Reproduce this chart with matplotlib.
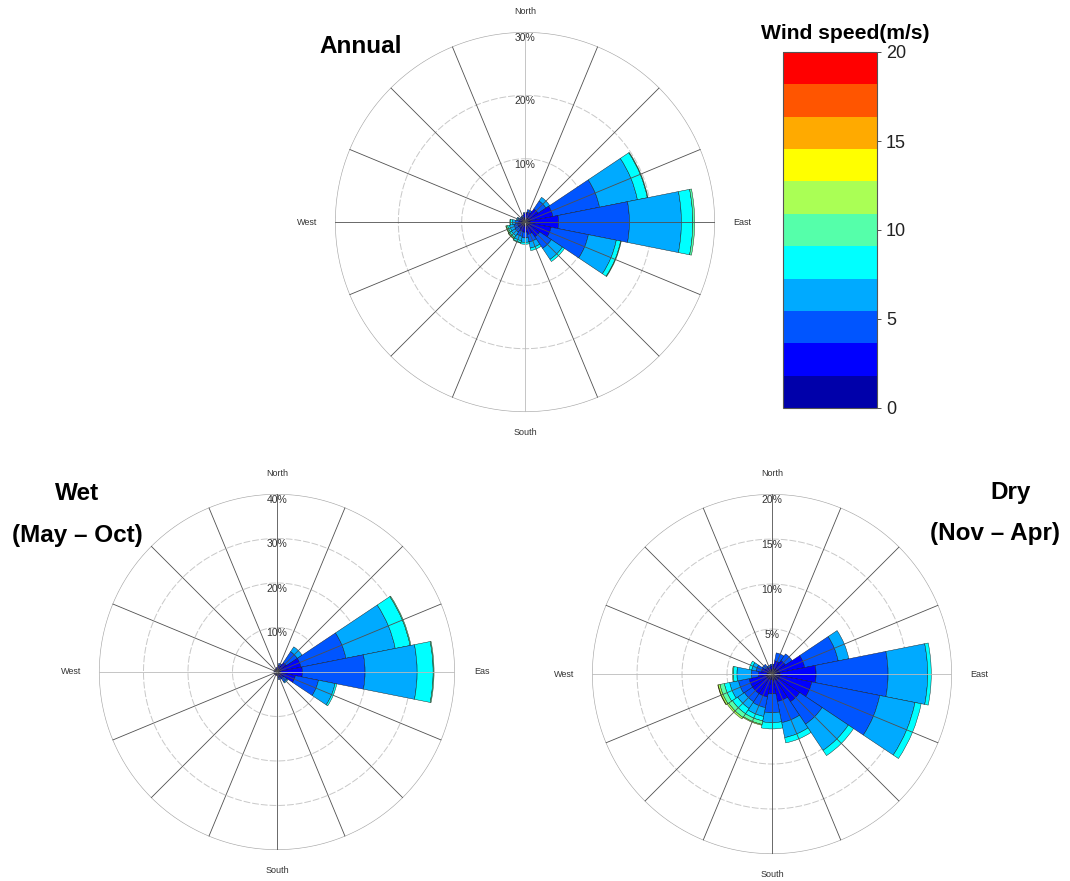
import numpy as np
import matplotlib.pyplot as plt
from matplotlib.colors import ListedColormap, BoundaryNorm
from matplotlib.cm import ScalarMappable

plt.rcParams['font.family'] = ['Liberation Sans', 'DejaVu Sans']

# 16 compass sectors, clockwise from North
directions = ['N', 'NNE', 'NE', 'ENE', 'E', 'ESE', 'SE', 'SSE',
              'S', 'SSW', 'SW', 'WSW', 'W', 'WNW', 'NW', 'NNW']
direction_deg = [0, 22.5, 45, 67.5, 90, 112.5, 135, 157.5,
                 180, 202.5, 225, 247.5, 270, 292.5, 315, 337.5]

# wind speed classes (m/s), 11 classes between 0 and 20
speed_edges = [0, 1.82, 3.64, 5.45, 7.27, 9.09, 10.91, 12.73, 14.55, 16.36, 18.18, 20]
speed_ticks = [0, 5, 10, 15, 20]

# cumulative frequency (%) at the top of each speed class, per direction
annual_cum = [
    [0.6, 1.3, 1.5],
    [0.6, 1.6, 2.0],
    [0.7, 2.5, 4.0, 4.7],
    [0.8, 4.5, 12.0, 18.1, 19.7, 19.8],
    [0.8, 5.3, 16.5, 24.7, 26.5, 26.8],
    [0.8, 4.2, 10.2, 14.7, 15.4, 15.5],
    [0.7, 2.8, 5.0, 7.1, 7.5],
    [0.6, 2.0, 3.2, 4.2, 4.6],
    [0.6, 1.6, 2.5, 3.2, 3.5],
    [0.6, 1.5, 2.3, 3.0, 3.3, 3.4],
    [0.5, 1.2, 1.9, 2.6, 2.9, 3.1, 3.2],
    [0.5, 1.2, 1.8, 2.5, 2.8, 3.0, 3.1],
    [0.5, 1.0, 1.5, 2.0, 2.3, 2.4],
    [0.5, 0.9, 1.2, 1.4],
    [0.4, 0.8, 1.0],
    [0.4, 0.8, 1.1],
]

wet_cum = [
    [0.5, 1.0],
    [0.5, 1.5, 2.0],
    [0.6, 2.5, 5.5, 6.8],
    [0.7, 5.5, 15.8, 27.1, 30.5, 30.7],
    [0.7, 5.7, 19.8, 31.5, 35.1, 35.3],
    [0.7, 4.2, 9.5, 13.3, 13.7],
    [0.5, 1.8, 2.7, 3.0],
    [0.5, 1.3, 1.8],
    [0.4, 0.8],
    [0.4, 0.7],
    [0.4, 0.7],
    [0.4, 0.7],
    [0.4, 0.7],
    [0.4, 0.6],
    [0.4, 0.6],
    [0.4, 0.7],
]

dry_cum = [
    [0.5, 0.9, 1.1],
    [0.6, 1.5, 2.4],
    [0.7, 1.8, 2.7],
    [0.8, 3.7, 7.5, 8.7],
    [0.9, 4.9, 12.9, 17.3, 17.7],
    [0.9, 4.5, 12.2, 16.2, 16.9],
    [0.8, 3.7, 6.7, 10.2, 10.9],
    [0.7, 3.1, 5.5, 7.2, 7.8],
    [0.6, 2.2, 4.3, 5.4, 6.1],
    [0.6, 2.6, 3.8, 4.8, 5.3, 5.7, 5.8],
    [0.6, 2.6, 3.7, 4.6, 5.3, 5.8, 6.0],
    [0.6, 2.6, 3.8, 4.8, 5.4, 5.9, 6.1, 6.15],
    [0.5, 1.5, 2.3, 3.9, 4.3, 4.4],
    [0.5, 1.2, 1.8, 2.3, 2.6],
    [0.4, 0.9, 1.3],
    [0.4, 0.8, 1.0],
]

# jet(11)
colors = ['#0000AA', '#0000FF', '#0055FF', '#00AAFF', '#00FFFF', '#55FFAA',
          '#AAFF55', '#FFFF00', '#FFAA00', '#FF5500', '#FF0000']

theta = np.deg2rad(direction_deg)
width = np.deg2rad(22.5)


def draw_rose(ax, cum, rmax, rings, ns_dark, east_label='East'):
    ax.set_theta_zero_location('N')
    ax.set_theta_direction(-1)
    ax.grid(False)
    ax.spines['polar'].set_visible(False)
    ax.set_xticks([])
    ax.set_yticks([])

    for i, vals in enumerate(cum):
        prev = 0
        for k, v in enumerate(vals):
            ax.bar(theta[i], v - prev, width=width, bottom=prev, color=colors[k],
                   edgecolor='#151515', linewidth=0.3, zorder=3)
            prev = v

    circ = np.linspace(0, 2 * np.pi, 400)
    for r in rings[:-1]:
        ax.plot(circ, np.full_like(circ, r), color='#c8c8c8', lw=0.7,
                ls=(0, (7, 2)), zorder=1)
    ax.plot(circ, np.full_like(circ, rings[-1]), color='#a8a8a8', lw=0.9, zorder=1)

    # spokes
    for t in theta:
        deg = np.rad2deg(t) % 180
        if deg == 0:
            c = '#505050' if ns_dark else '#bbbbbb'
        elif deg == 90:
            c = '#bbbbbb' if ns_dark else '#505050'
        else:
            c = '#505050'
        ax.plot([t, t], [0, rmax], color=c, lw=0.6, zorder=4)

    ax.set_ylim(0, rmax)

    for r in rings:
        ax.annotate('%g%%' % r, xy=(0, r), xytext=(0, -4.2), textcoords='offset points',
                    ha='center', va='center', fontsize=7.5, color='#333333',
                    annotation_clip=False, zorder=5)

    lab = dict(fontsize=6.5, color='#333333', ha='center', va='center',
               textcoords='offset points', annotation_clip=False)
    ax.annotate('North', xy=(0, rmax), xytext=(0, 15), **lab)
    ax.annotate('South', xy=(np.pi, rmax), xytext=(0, -14.5), **lab)
    ax.annotate('West', xy=(1.5 * np.pi, rmax), xytext=(-20, 0), **lab)
    ax.annotate(east_label, xy=(0.5 * np.pi, rmax), xytext=(19.5, 0), **lab)


fig = plt.figure(figsize=(10.70, 8.81), dpi=100)

ax1 = fig.add_axes([0.3131, 0.5323, 0.3551, 0.4313], projection='polar')
draw_rose(ax1, annual_cum, 30, [10, 20, 30], ns_dark=False)

ax2 = fig.add_axes([0.0925, 0.0352, 0.3327, 0.4041], projection='polar')
draw_rose(ax2, wet_cum, 40, [10, 20, 30, 40], ns_dark=True, east_label='Eas')

ax3 = fig.add_axes([0.5533, 0.0306, 0.3364, 0.4086], projection='polar')
draw_rose(ax3, dry_cum, 20, [5, 10, 15, 20], ns_dark=True)

title_kw = dict(fontsize=17.5, fontweight='bold', ha='center', va='center')
fig.text(0.3374, 0.9467, 'Annual', **title_kw)
fig.text(0.072, 0.4393, 'Wet', **title_kw)
fig.text(0.072, 0.3927, '(May – Oct)', **title_kw)
fig.text(0.944, 0.4415, 'Dry', **title_kw)
fig.text(0.930, 0.3950, '(Nov – Apr)', **title_kw)

# colorbar
cax = fig.add_axes([0.7318, 0.5369, 0.0879, 0.4041])
cmap = ListedColormap(colors)
norm = BoundaryNorm(speed_edges, cmap.N)
cb = fig.colorbar(ScalarMappable(norm=norm, cmap=cmap), cax=cax, ticks=speed_ticks)
cb.minorticks_off()
cb.outline.set_edgecolor('#555555')
cb.outline.set_linewidth(0.8)
cax.tick_params(labelsize=13, length=3, width=0.6, colors='#333333', labelcolor='#222222')
fig.text(0.7897, 0.9625, 'Wind speed(m/s)', fontsize=15.2, fontweight='bold',
         ha='center', va='center')

fig.savefig('out.png', dpi=100)
